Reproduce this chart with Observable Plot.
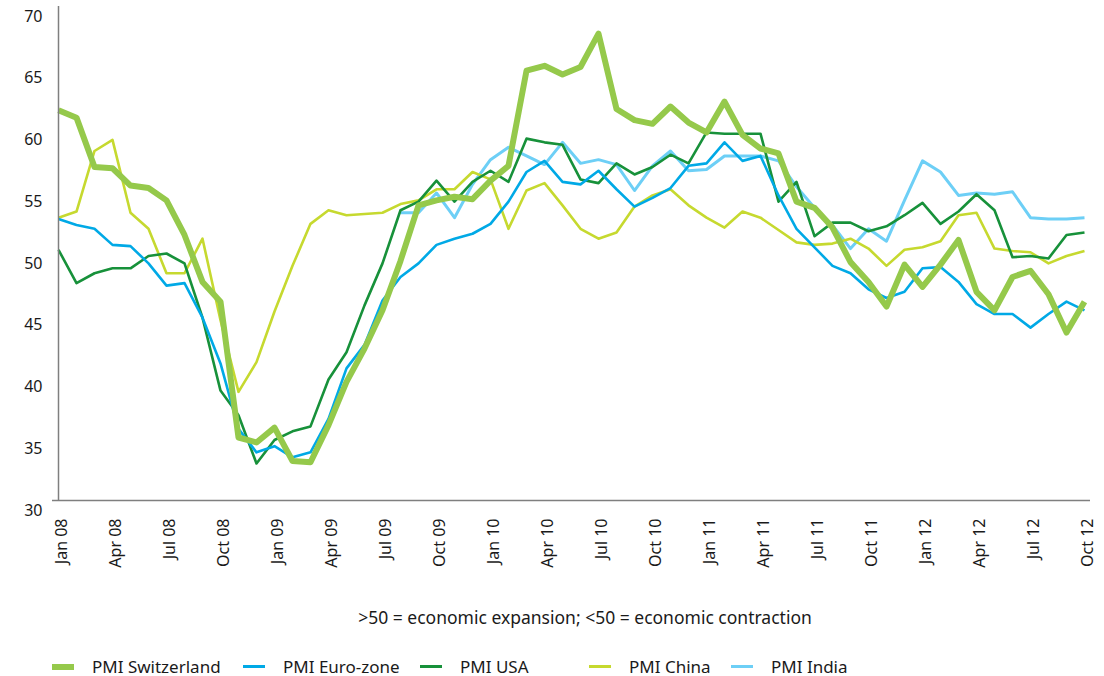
<!DOCTYPE html>
<html>
<head>
<meta charset="utf-8">
<script src="https://cdn.jsdelivr.net/npm/d3@7"></script>
<script src="https://cdn.jsdelivr.net/npm/@observablehq/plot@0.6"></script>
<style>
  html, body { margin: 0; background: #fff; font-family: "Noto Sans", sans-serif; color: #1a1a1a; }
  #wrap { position: relative; width: 1104px; height: 676px; }
  #caption { position: absolute; left: 66px; width: 1038px; top: 606px; height: 22px; line-height: 22px; text-align: center; font-size: 17.5px; }
  .item { position: absolute; top: 657px; height: 19px; line-height: 19px; display: flex; align-items: center; font-size: 17px; white-space: nowrap; }
  .sw { width: 22px; margin-right: 18px; flex: none; }
</style>
</head>
<body>
<div id="wrap">
  <div id="chart"></div>
  <div id="caption">&gt;50 = economic expansion; &lt;50 = economic contraction</div>
  <div id="legend"></div>
</div>
<script>
const months = [
  "Jan 08","Feb 08","Mar 08","Apr 08","May 08","Jun 08","Jul 08","Aug 08","Sep 08","Oct 08","Nov 08","Dec 08",
  "Jan 09","Feb 09","Mar 09","Apr 09","May 09","Jun 09","Jul 09","Aug 09","Sep 09","Oct 09","Nov 09","Dec 09",
  "Jan 10","Feb 10","Mar 10","Apr 10","May 10","Jun 10","Jul 10","Aug 10","Sep 10","Oct 10","Nov 10","Dec 10",
  "Jan 11","Feb 11","Mar 11","Apr 11","May 11","Jun 11","Jul 11","Aug 11","Sep 11","Oct 11","Nov 11","Dec 11",
  "Jan 12","Feb 12","Mar 12","Apr 12","May 12","Jun 12","Jul 12","Aug 12","Sep 12","Oct 12"
];
const tickLabels = ["Jan 08","Apr 08","Jul 08","Oct 08","Jan 09","Apr 09","Jul 09","Oct 09","Jan 10","Apr 10",
  "Jul 10","Oct 10","Jan 11","Apr 11","Jul 11","Oct 11","Jan 12","Apr 12","Jul 12","Oct 12"];
const yTicks = [30, 35, 40, 45, 50, 55, 60, 65, 70];

const seriesNames = ["PMI Switzerland", "PMI Euro-zone", "PMI USA", "PMI China", "PMI India"];

const pmiSwitzerland = [61.6,61.0,57.0,56.9,55.5,55.3,54.3,51.5,47.7,46.1,35.1,34.7,
  35.9,33.2,33.1,36.1,39.6,42.3,45.4,49.4,53.9,54.3,54.6,54.4,
  55.9,57.1,64.8,65.2,64.5,65.1,67.8,61.7,60.8,60.5,61.9,60.6,
  59.8,62.3,59.6,58.5,58.1,54.2,53.7,52.1,49.3,47.7,45.7,49.1,
  47.3,49.1,51.1,46.9,45.4,48.1,48.6,46.7,43.6,46.1];
const pmiEuro = [52.8,52.3,52.0,50.7,50.6,49.2,47.4,47.6,44.8,41.1,35.8,33.9,
  34.4,33.5,33.9,36.6,40.7,42.6,46.2,48.1,49.2,50.7,51.2,51.6,
  52.4,54.2,56.6,57.5,55.8,55.6,56.7,55.2,53.8,54.5,55.3,57.1,
  57.3,59.0,57.5,57.9,54.7,52.0,50.5,49.0,48.4,47.1,46.4,46.9,
  48.8,48.9,47.7,45.9,45.1,45.1,44.0,45.1,46.1,45.4];
const pmiUSA = [50.3,47.6,48.4,48.8,48.8,49.8,50.0,49.2,44.8,38.9,36.9,33.0,
  34.9,35.6,36.0,39.8,42.0,45.8,49.2,53.5,54.2,55.9,54.2,55.8,
  56.7,55.8,59.3,59.0,58.8,56.0,55.7,57.3,56.4,57.0,58.0,57.3,
  59.8,59.7,59.7,59.7,54.2,55.8,51.4,52.5,52.5,51.8,52.2,53.1,
  54.1,52.4,53.4,54.8,53.5,49.7,49.8,49.6,51.5,51.7];
const pmiChina = [52.9,53.4,58.3,59.2,53.3,52.0,48.4,48.4,51.2,44.6,38.8,41.2,
  45.3,49.0,52.4,53.5,53.1,53.2,53.3,54.0,54.3,55.2,55.2,56.6,
  56.0,52.0,55.1,55.7,53.9,52.0,51.2,51.7,53.8,54.7,55.2,53.9,
  52.9,52.1,53.4,52.9,51.9,50.9,50.7,50.8,51.2,50.4,49.0,50.3,
  50.5,51.0,53.1,53.3,50.4,50.2,50.1,49.2,49.8,50.2];
const pmiIndia = [null,null,null,null,null,null,null,null,null,null,null,null,
  null,null,null,null,null,null,null,53.3,53.3,54.9,52.9,55.6,
  57.6,58.6,57.9,57.2,59.0,57.3,57.6,57.2,55.1,57.1,58.3,56.7,
  56.8,57.9,57.9,57.9,57.5,55.4,53.7,52.3,50.4,52.0,51.0,54.3,
  57.5,56.6,54.7,54.9,54.8,55.0,52.9,52.8,52.8,52.9];

const seriesValues = [pmiSwitzerland, pmiEuro, pmiUSA, pmiChina, pmiIndia];
const colors = ["#95c94b", "#00a9e6", "#17913a", "#c6d92f", "#6dcff6"];
const widths = [6, 2.6, 2.6, 2.6, 3];
const drawOrder = [4, 3, 2, 1, 0];

const rows = (k) => months.map((m, i) => ({month: m, value: seriesValues[k][i]}));

const font = "'Noto Sans', sans-serif";

const chart = Plot.plot({
  width: 1104,
  height: 580,
  marginLeft: 52,
  marginRight: 14,
  marginTop: 6,
  marginBottom: 80,
  x: {type: "point", domain: months, padding: 0},
  y: {domain: [30, 70]},
  style: {fontFamily: font, fontSize: "16px", color: "#1a1a1a", background: "#fff", overflow: "visible"},
  marks: [
    Plot.axisY({ticks: yTicks, tickSize: 0, tickPadding: 10, dy: 10, fontSize: 16, label: null}),
    Plot.axisX({ticks: tickLabels, tickSize: 0, tickRotate: -90, tickPadding: 18, dx: 3, fontSize: 16, label: null}),
    ...drawOrder.map(k => Plot.line(rows(k), {
      x: "month", y: "value", stroke: colors[k], strokeWidth: widths[k],
      strokeLinejoin: "round", strokeLinecap: "butt"
    })),
    Plot.ruleY([30], {stroke: "#7f7f7f", strokeWidth: 1.5}),
    Plot.ruleX([months[0]], {stroke: "#7f7f7f", strokeWidth: 1.5})
  ]
});
document.getElementById("chart").appendChild(chart);

const legendLeft = [52, 243, 420, 589, 731];
const legend = document.getElementById("legend");
seriesNames.forEach((name, k) => {
  const item = document.createElement("div");
  item.className = "item";
  item.style.left = legendLeft[k] + "px";
  const sw = document.createElement("div");
  sw.className = "sw";
  sw.style.height = (k === 0 ? 6 : 3) + "px";
  sw.style.background = colors[k];
  const lbl = document.createElement("span");
  lbl.textContent = name;
  item.appendChild(sw);
  item.appendChild(lbl);
  legend.appendChild(item);
});
</script>
</body>
</html>
